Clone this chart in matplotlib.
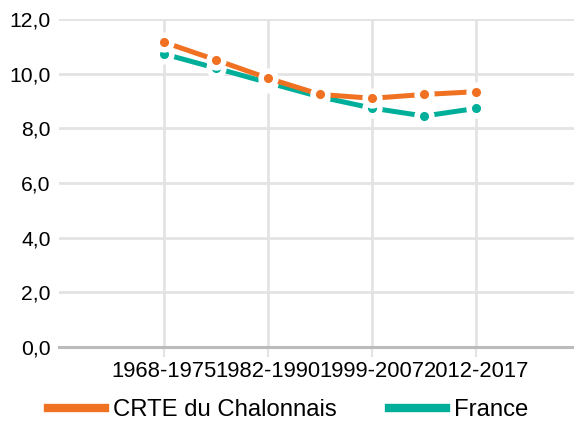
import numpy as np
import matplotlib.pyplot as plt
from matplotlib.lines import Line2D

# data
periods = ['1968-1975', '1975-1982', '1982-1990', '1990-1999',
           '1999-2007', '2007-2012', '2012-2017']
crte = [11.15, 10.5, 9.83, 9.24, 9.1, 9.24, 9.34]
france = [10.72, 10.2, 9.67, 9.15, 8.74, 8.45, 8.73]
yticks = [0, 2, 4, 6, 8, 10, 12]

orange = '#F07122'
teal = '#00AF9A'
grid_col = '#e3e3e3'

plt.rcParams['font.family'] = ['Liberation Sans', 'DejaVu Sans']

fig = plt.figure(figsize=(5.74, 4.23), dpi=100)
ax = fig.add_axes([59 / 574, 76 / 423, 515 / 574, 328 / 423])

x = np.arange(len(periods))

# France first so the CRTE markers sit on top
ax.plot(x, france, color=teal, lw=3.6, marker='o', ms=10.6,
        mfc=teal, mec='white', mew=4.0, zorder=3, solid_capstyle='butt')
ax.plot(x, crte, color=orange, lw=3.6, marker='o', ms=10.6,
        mfc=orange, mec='white', mew=4.0, zorder=4, solid_capstyle='butt')

ax.set_xlim(-2.02, 7.88)
ax.set_ylim(0, 12)

ax.set_yticks(yticks)
ax.set_yticklabels([f'{v:.1f}'.replace('.', ',') for v in yticks], fontsize=15.2)
ax.set_xticks(x[::2])
ax.set_xticklabels(periods[::2], fontsize=15.8)

ax.grid(True, color=grid_col, lw=2)
ax.set_axisbelow(True)
for s in ['top', 'right', 'left']:
    ax.spines[s].set_visible(False)
ax.spines['bottom'].set_color('#bbbbbb')
ax.spines['bottom'].set_linewidth(2.2)
ax.spines['bottom'].set_zorder(2)
ax.tick_params(axis='y', length=0, pad=6)
ax.tick_params(axis='x', length=7, width=1.5, color=grid_col, pad=3)

handles = [Line2D([], [], color=orange, lw=6),
           Line2D([], [], color=teal, lw=6)]
fig.legend(handles, ['CRTE du Chalonnais', 'France'], loc='center left',
           bbox_to_anchor=(48 / 574, 1 - 410 / 423), ncol=2, frameon=False,
           fontsize=17.2, handlelength=2.39, handletextpad=0.33,
           columnspacing=2.2, borderpad=0, borderaxespad=0)

fig.savefig('out.png', dpi=100)
